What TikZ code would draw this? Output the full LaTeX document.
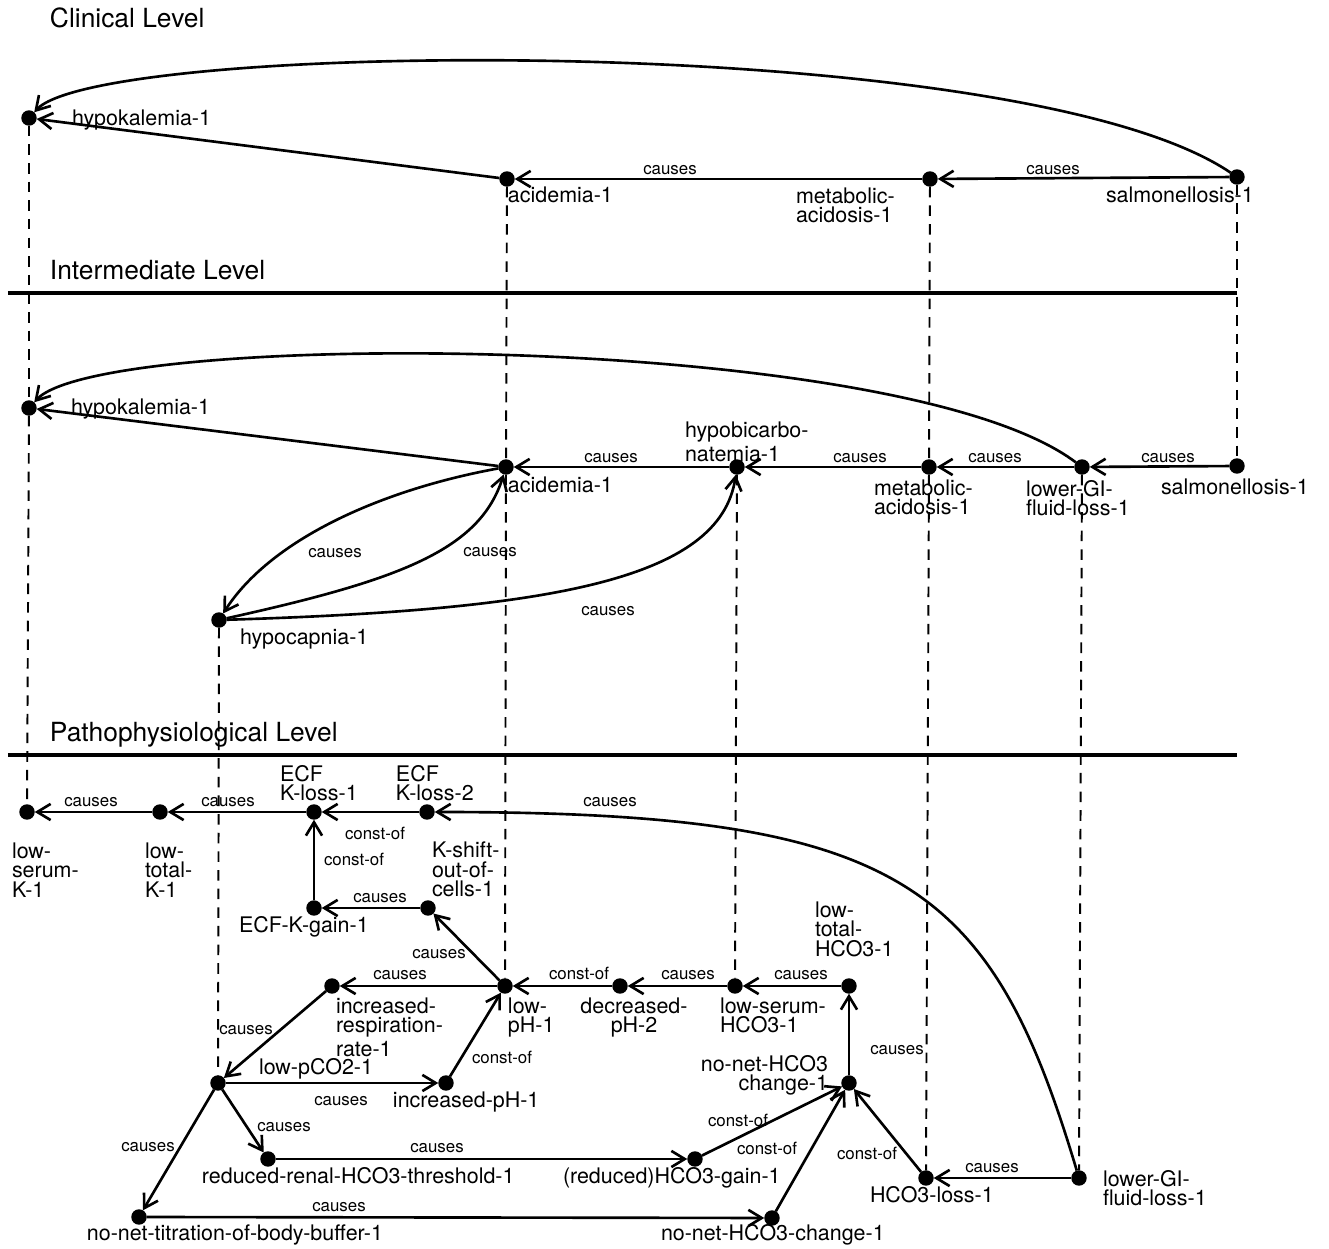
\documentclass[tikz,border=0pt]{standalone}
\usepackage{fontspec}
\setmainfont{TeX Gyre Heros}
\usepackage{tikz}
\usetikzlibrary{arrows.meta}

\begin{document}
\begin{tikzpicture}[
    x=0.01cm, y=-0.01cm,
    every node/.style={inner sep=0pt, outer sep=0pt},
    dot/.style  ={circle, fill=black, minimum size=4.4pt},
    lbl/.style  ={font=\fontsize{6.1}{5.5}\selectfont, align=left},
    rlbl/.style ={lbl, align=right},
    clbl/.style ={lbl, align=center},
    rel/.style  ={font=\fontsize{4.8}{5}\selectfont},
    title/.style={font=\fontsize{7.5}{9}\selectfont, anchor=base west},
    arrow/.style={-{Straight Barb[length=3.8pt,width=4.6pt]}, line width=0.75pt},
    tie/.style  ={dash pattern=on 3pt off 2.3pt, line width=0.55pt},
    levelline/.style={line width=1.2pt}
]
\useasboundingbox (0,0) rectangle (1329,1249);

% ========== CLINICAL LEVEL ==========
\node[title] (t-clin) at (50,28) {Clinical Level};

\node[dot] (c-hypok) at (29,118)  {};
\node[dot] (c-acid)  at (507,179) {};
\node[dot] (c-metab) at (930,179) {};
\node[dot] (c-salm)  at (1237,177) {};

\node[lbl, anchor=base west]  (c-hypok-l) at (72,126)  {hypokalemia-1};
\node[lbl, anchor=base west]  (c-acid-l)  at (508,203) {acidemia-1};
\node[lbl, anchor=north west] (c-metab-l) at (796,188) {metabolic-\\acidosis-1};
\node[lbl, anchor=base west]  (c-salm-l)  at (1106,203) {salmonellosis-1};

\node[rel] (c-r1) at (1053,170) {causes};
\node[rel] (c-r2) at (670,170)  {causes};

\draw[arrow] (c-salm) -- (c-metab);
\draw[arrow] (c-metab) -- (c-acid);
\draw[arrow] (c-acid) -- (c-hypok);
\draw[arrow] (c-salm) .. controls (1020,30) and (100,40) .. (c-hypok);

% ========== INTERMEDIATE LEVEL ==========
\node[title] (t-inter) at (50,280) {Intermediate Level};
\draw[levelline] (8,293) -- (1237,293);

\node[dot] (i-hypok)  at (29,408)  {};
\node[dot] (i-acid)   at (506,467) {};
\node[dot] (i-hypobic) at (737,467) {};
\node[dot] (i-metab)  at (929,467) {};
\node[dot] (i-lgi)    at (1082,467) {};
\node[dot] (i-salm)   at (1237,466) {};
\node[dot] (i-hypocap) at (219,620) {};

\node[lbl, anchor=base west]  (i-hypok-l)   at (71,415)   {hypokalemia-1};
\node[lbl, anchor=base west]  (i-acid-l)    at (508,493)  {acidemia-1};
\node[lbl, anchor=north west] (i-hypobic-l) at (685,422)  {hypobicarbo-\\natemia-1};
\node[lbl, anchor=north west] (i-metab-l)   at (874,480)  {metabolic-\\acidosis-1};
\node[lbl, anchor=north west] (i-lgi-l)     at (1026,480) {lower-GI-\\fluid-loss-1};
\node[lbl, anchor=base west]  (i-salm-l)    at (1161,495) {salmonellosis-1};
\node[lbl, anchor=base west]  (i-hypocap-l) at (240,645)  {hypocapnia-1};

\node[rel] (i-r1) at (1168,458) {causes};
\node[rel] (i-r2) at (995,458)  {causes};
\node[rel] (i-r3) at (860,458)  {causes};
\node[rel] (i-r4) at (611,458)  {causes};
\node[rel] (i-r5) at (335,553)  {causes};
\node[rel] (i-r6) at (490,552)  {causes};
\node[rel] (i-r7) at (608,611)  {causes};

\draw[arrow] (i-salm) -- (i-lgi);
\draw[arrow] (i-lgi) -- (i-metab);
\draw[arrow] (i-metab) -- (i-hypobic);
\draw[arrow] (i-hypobic) -- (i-acid);
\draw[arrow] (i-acid) -- (i-hypok);
\draw[arrow] (i-lgi) .. controls (900,330) and (100,330) .. (i-hypok);
\draw[arrow] (i-acid) .. controls (380,490) and (270,540) .. (i-hypocap);
\draw[arrow] (i-hypocap) .. controls (400,580) and (480,550) .. (i-acid);
\draw[arrow] (i-hypocap) .. controls (550,610) and (720,580) .. (i-hypobic);

% ========== PATHOPHYSIOLOGICAL LEVEL ==========
\node[title] (t-patho) at (50,742) {Pathophysiological Level};
\draw[levelline] (8,755) -- (1237,755);

\node[dot] (p-lsk)    at (27,812)   {};
\node[dot] (p-ltk)    at (160,812)  {};
\node[dot] (p-ecfl1)  at (314,812)  {};
\node[dot] (p-ecfl2)  at (427,812)  {};
\node[dot] (p-kshift) at (428,908)  {};
\node[dot] (p-ecfg)   at (314,908)  {};
\node[dot] (p-lph)    at (505,986)  {};
\node[dot] (p-irr)    at (332,986)  {};
\node[dot] (p-dph)    at (620,986)  {};
\node[dot] (p-lshco3) at (735,986)  {};
\node[dot] (p-lthco3) at (849,986)  {};
\node[dot] (p-nnc)    at (849,1083) {};
\node[dot] (p-lpco2)  at (218,1083) {};
\node[dot] (p-iph)    at (446,1083) {};
\node[dot] (p-rrt)    at (268,1159) {};
\node[dot] (p-rgain)  at (695,1159) {};
\node[dot] (p-nnt)    at (139,1217) {};
\node[dot] (p-nnhc)   at (772,1218) {};
\node[dot] (p-hloss)  at (926,1178) {};
\node[dot] (p-lgi)    at (1079,1178) {};

\node[lbl, anchor=north west]  (p-lsk-l)    at (12,843)   {low-\\serum-\\K-1};
\node[lbl, anchor=north west]  (p-ltk-l)    at (145,843)  {low-\\total-\\K-1};
\node[lbl, anchor=north west]  (p-ecfl1-l)  at (280,765)  {ECF\\K-loss-1};
\node[lbl, anchor=north west]  (p-ecfl2-l)  at (396,765)  {ECF\\K-loss-2};
\node[lbl, anchor=north west]  (p-kshift-l) at (432,842)  {K-shift-\\out-of-\\cells-1};
\node[lbl, anchor=base west]   (p-ecfg-l)   at (239,933)  {ECF-K-gain-1};
\node[lbl, anchor=north west]  (p-irr-l)    at (336,998)  {increased-\\respiration-\\rate-1};
\node[lbl, anchor=north west]  (p-lph-l)    at (508,998)  {low-\\pH-1};
\node[clbl, anchor=north]      (p-dph-l)    at (634,998)  {decreased-\\pH-2};
\node[lbl, anchor=north west]  (p-lshco3-l) at (720,998)  {low-serum-\\HCO3-1};
\node[lbl, anchor=north west]  (p-lthco3-l) at (815,902)  {low-\\total-\\HCO3-1};
\node[rlbl, anchor=north east] (p-nnc-l)    at (828,1055) {no-net-HCO3\\change-1};
\node[lbl, anchor=base west]   (p-lpco2-l)  at (259,1075) {low-pCO2-1};
\node[lbl, anchor=base west]   (p-iph-l)    at (393,1108) {increased-pH-1};
\node[lbl, anchor=base west]   (p-rrt-l)    at (202,1184) {reduced-renal-HCO3-threshold-1};
\node[lbl, anchor=base west]   (p-rgain-l)  at (563,1184) {(reduced)HCO3-gain-1};
\node[lbl, anchor=base west]   (p-nnt-l)    at (87,1241)  {no-net-titration-of-body-buffer-1};
\node[lbl, anchor=base west]   (p-nnhc-l)   at (661,1241) {no-net-HCO3-change-1};
\node[lbl, anchor=base west]   (p-hloss-l)  at (870,1203) {HCO3-loss-1};
\node[lbl, anchor=north west]  (p-lgi-l)    at (1103,1170) {lower-GI-\\fluid-loss-1};

\node[rel] (p-r1)  at (91,802)   {causes};
\node[rel] (p-r2)  at (228,802)  {causes};
\node[rel] (p-r3)  at (375,833)  {const-of};
\node[rel] (p-r4)  at (354,859)  {const-of};
\node[rel] (p-r5)  at (380,898)  {causes};
\node[rel] (p-r6)  at (439,954)  {causes};
\node[rel] (p-r7)  at (400,975)  {causes};
\node[rel] (p-r8)  at (579,973)  {const-of};
\node[rel] (p-r9)  at (688,975)  {causes};
\node[rel] (p-r10) at (801,975)  {causes};
\node[rel] (p-r11) at (897,1050) {causes};
\node[rel] (p-r12) at (246,1030) {causes};
\node[rel] (p-r13) at (341,1101) {causes};
\node[rel] (p-r14) at (502,1057) {const-of};
\node[rel] (p-r15) at (284,1127) {causes};
\node[rel] (p-r16) at (437,1148) {causes};
\node[rel] (p-r17) at (148,1147) {causes};
\node[rel] (p-r18) at (339,1207) {causes};
\node[rel] (p-r19) at (738,1120) {const-of};
\node[rel] (p-r20) at (767,1148) {const-of};
\node[rel] (p-r21) at (867,1153) {const-of};
\node[rel] (p-r22) at (992,1168) {causes};
\node[rel] (p-r23) at (610,802)  {causes};

\draw[arrow] (p-ltk) -- (p-lsk);
\draw[arrow] (p-ecfl1) -- (p-ltk);
\draw[arrow] (p-ecfl2) -- (p-ecfl1);
\draw[arrow] (p-lgi) .. controls (990,880) and (900,812) .. (p-ecfl2);
\draw[arrow] (p-ecfg) -- (p-ecfl1);
\draw[arrow] (p-kshift) -- (p-ecfg);
\draw[arrow] (p-lph) -- (p-kshift);
\draw[arrow] (p-lph) -- (p-irr);
\draw[arrow] (p-dph) -- (p-lph);
\draw[arrow] (p-lshco3) -- (p-dph);
\draw[arrow] (p-lthco3) -- (p-lshco3);
\draw[arrow] (p-nnc) -- (p-lthco3);
\draw[arrow] (p-irr) -- (p-lpco2);
\draw[arrow] (p-lpco2) -- (p-iph);
\draw[arrow] (p-iph) -- (p-lph);
\draw[arrow] (p-lpco2) -- (p-rrt);
\draw[arrow] (p-lpco2) -- (p-nnt);
\draw[arrow] (p-rrt) -- (p-rgain);
\draw[arrow] (p-nnt) -- (p-nnhc);
\draw[arrow] (p-rgain) -- (p-nnc);
\draw[arrow] (p-nnhc) -- (p-nnc);
\draw[arrow] (p-hloss) -- (p-nnc);
\draw[arrow] (p-lgi) -- (p-hloss);

% ========== DASHED LINKS BETWEEN LEVELS ==========
\draw[tie] (c-hypok) -- (i-hypok);
\draw[tie] (c-acid) -- (i-acid);
\draw[tie] (c-metab) -- (i-metab);
\draw[tie] (c-salm) -- (i-salm);
\draw[tie] (i-hypok) -- (p-lsk);
\draw[tie] (i-hypocap) -- (p-lpco2);
\draw[tie] (i-acid) -- (p-lph);
\draw[tie] (i-hypobic) -- (p-lshco3);
\draw[tie] (i-metab) -- (p-hloss);
\draw[tie] (i-lgi) -- (p-lgi);

\end{tikzpicture}
\end{document}
